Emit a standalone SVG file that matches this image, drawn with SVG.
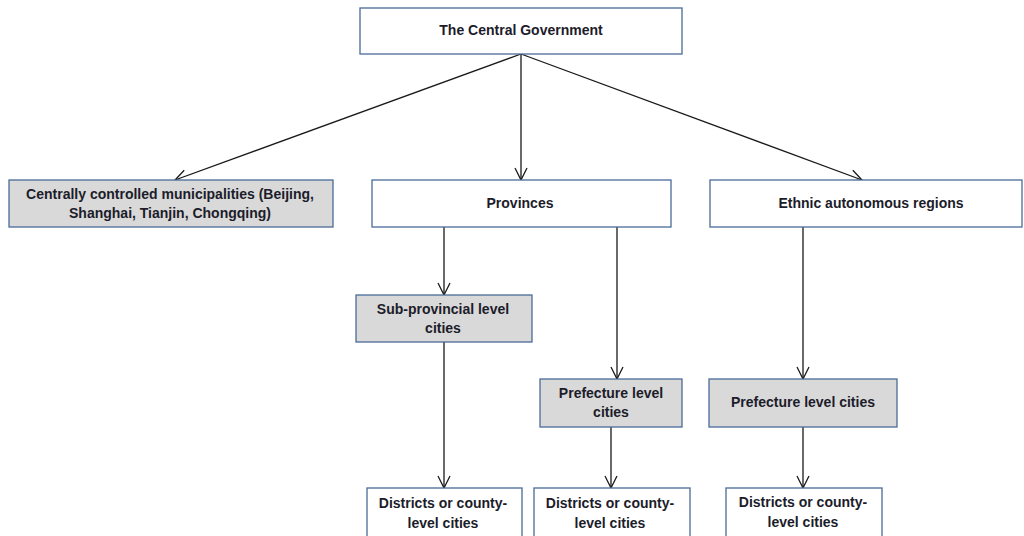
<svg xmlns="http://www.w3.org/2000/svg" width="1024" height="536" viewBox="0 0 1024 536">
<style>
.box{stroke:#4a6b9a;stroke-width:1.3;fill:#ffffff}
.gray{fill:#d9d9d9}
.t{font-family:"Liberation Sans",Arial,sans-serif;font-weight:bold;font-size:14px;fill:#1c1c2a;text-anchor:middle}
.c{stroke:#1a1a1a;stroke-width:1.3;fill:none}
</style>
<defs>
<marker id="ah" viewBox="0 0 14 14" refX="13" refY="7" markerWidth="14" markerHeight="14" markerUnits="userSpaceOnUse" orient="auto">
<path d="M1,1 L13,7 L1,13" fill="none" stroke="#1a1a1a" stroke-width="1.3"/>
</marker>
</defs>
<rect width="1024" height="536" fill="#ffffff"/>
<g id="connectors">
<line class="c" x1="521" y1="54" x2="175" y2="180" marker-end="url(#ah)"/>
<line class="c" x1="521" y1="54" x2="521" y2="180" marker-end="url(#ah)"/>
<line class="c" x1="521" y1="54" x2="862" y2="180" marker-end="url(#ah)"/>
<line class="c" x1="444" y1="227" x2="444" y2="295" marker-end="url(#ah)"/>
<line class="c" x1="617" y1="227" x2="617" y2="379" marker-end="url(#ah)"/>
<line class="c" x1="803" y1="227" x2="803" y2="379" marker-end="url(#ah)"/>
<line class="c" x1="444" y1="342" x2="444" y2="488" marker-end="url(#ah)"/>
<line class="c" x1="611" y1="427" x2="611" y2="488" marker-end="url(#ah)"/>
<line class="c" x1="803" y1="427" x2="803" y2="488" marker-end="url(#ah)"/>
</g>
<g id="central">
<rect class="box" x="360" y="8" width="322" height="46"/>
<text class="t" x="521" y="35">The Central Government</text>
</g>
<g id="municipalities">
<rect class="box gray" x="9" y="180" width="324" height="47"/>
<text class="t" x="170" y="199">Centrally controlled municipalities (Beijing,</text>
<text class="t" x="170" y="218">Shanghai, Tianjin, Chongqing)</text>
</g>
<g id="provinces">
<rect class="box" x="372" y="180" width="299" height="47"/>
<text class="t" x="520" y="208">Provinces</text>
</g>
<g id="ethnic">
<rect class="box" x="710" y="180" width="312" height="47"/>
<text class="t" x="871" y="208">Ethnic autonomous regions</text>
</g>
<g id="subprovincial">
<rect class="box gray" x="356" y="295" width="176" height="47"/>
<text class="t" x="443" y="314">Sub-provincial level</text>
<text class="t" x="443" y="333">cities</text>
</g>
<g id="prefecture1">
<rect class="box gray" x="540" y="379" width="142" height="48"/>
<text class="t" x="611" y="398">Prefecture level</text>
<text class="t" x="611" y="417">cities</text>
</g>
<g id="prefecture2">
<rect class="box gray" x="709" y="379" width="188" height="48"/>
<text class="t" x="803" y="407">Prefecture level cities</text>
</g>
<g id="districts1">
<rect class="box" x="367" y="488" width="155" height="50"/>
<text class="t" x="443" y="508">Districts or county-</text>
<text class="t" x="443" y="528">level cities</text>
</g>
<g id="districts2">
<rect class="box" x="534" y="488" width="156" height="50"/>
<text class="t" x="610" y="508">Districts or county-</text>
<text class="t" x="610" y="528">level cities</text>
</g>
<g id="districts3">
<rect class="box" x="726" y="488" width="156" height="50"/>
<text class="t" x="803" y="507">Districts or county-</text>
<text class="t" x="803" y="527">level cities</text>
</g>
</svg>
